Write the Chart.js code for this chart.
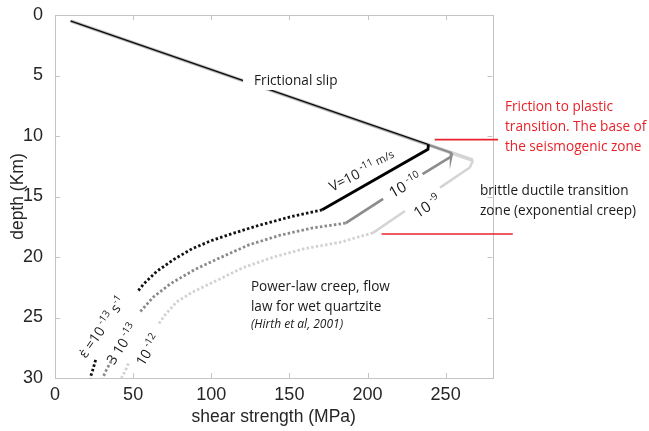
<!DOCTYPE html>
<html>
<head>
<meta charset="utf-8">
<title>Shear strength with depth</title>
<script src="https://cdn.jsdelivr.net/npm/chart.js@4.4.0/dist/chart.umd.min.js"></script>
<style>
  html, body { margin: 0; padding: 0; background: #fff; }
</style>
</head>
<body>
<canvas id="strengthChart" width="649" height="431"></canvas>
<script>
// Axis ticks
const stressTicks = [0, 50, 100, 150, 200, 250];
const depthTicks = [0, 5, 10, 15, 20, 25, 30];

// Frictional slip + brittle-ductile segment, one path per slip velocity (null = gap for the label)
const v11Stress = [10, 239, 238.7, 171];
const v11Depth = [0.5, 10.7, 11.1, 16.1];
const v10Stress = [10, 254, 253.5, 235.2, null, 210, 186];
const v10Depth = [0.5, 11.4, 11.7, 13.15, null, 15.2, 17.2];
const v9Stress = [10, 267.5, 265.5, 246.4, null, 224, 203.5];
const v9Depth = [0.5, 12.0, 12.6, 14.27, null, 16.2, 18.0];

// Power-law creep, one curve per strain rate
const e13Stress = [171, 150, 130, 115, 101, 88, 76, 65, 57, 52.5, null, 26, 24.5, 22.5];
const e13Depth = [16.1, 16.7, 17.4, 18.0, 18.6, 19.3, 20.2, 21.2, 22.2, 22.9, null, 28.5, 29.2, 30];
const e13x3Stress = [186, 165, 144, 124, 105, 90, 74, 63, 54, null, 36, 33, 30.5];
const e13x3Depth = [17.2, 17.6, 18.2, 19.0, 20.1, 21.0, 22.2, 23.3, 24.6, null, 28.6, 29.3, 30];
const e12Stress = [203.5, 182, 160, 140, 120, 101, 88, 78, 71, 66.5, null, 47, 45, 42.5];
const e12Depth = [18.0, 18.8, 19.3, 20.0, 20.9, 22.1, 22.9, 23.7, 24.7, 25.5, null, 28.8, 29.4, 30];

// Markers for the base of the seismogenic zone and the bottom of the transition zone
const seismoStress = [243, 283.5];
const seismoDepth = [10.3, 10.3];
const ductileStress = [209, 293];
const ductileDepth = [18.1, 18.1];

function pts(xs, ys) {
  return xs.map((x, i) => (x === null ? { x: null, y: null } : { x: x, y: ys[i] }));
}

// frictionWidth: different stroke on the first (frictional) segment so the paths stack
function path(xs, ys, color, width, dash, frictionWidth) {
  const ds = {
    data: pts(xs, ys),
    showLine: true,
    borderColor: color,
    borderWidth: width,
    borderDash: dash || [],
    borderCapStyle: 'butt',
    borderJoinStyle: 'miter',
    pointRadius: 0,
    spanGaps: false,
    clip: false
  };
  if (frictionWidth) {
    ds.segment = { borderWidth: c => (c.p0DataIndex === 0 ? frictionWidth : width) };
  }
  return ds;
}

const AXIS_FONT = 'Liberation Sans, Arial, sans-serif';
const NOTE_FONT = '"Open Sans", "Noto Sans", sans-serif';

function fontOf(run) {
  return (run[3] || '') + ' ' + run[1] + 'px ' + NOTE_FONT;
}

// draw a row of text runs [text, size, rise, style], rotated about (x, y)
function drawRuns(ctx, runs, x, y, opt) {
  ctx.save();
  ctx.translate(x, y);
  ctx.rotate((opt.angle || 0) * Math.PI / 180);
  let total = 0;
  const widths = runs.map(r => {
    ctx.font = fontOf(r);
    const w = ctx.measureText(r[0]).width;
    total += w;
    return w;
  });
  let cx = opt.align === 'center' ? -total / 2 : 0;
  const base = runs[0][1] * 0.36;
  if (opt.bg) {
    ctx.fillStyle = '#fff';
    ctx.fillRect(cx - opt.bg[0], -opt.bg[1], total + opt.bg[0] + opt.bg[2], opt.bg[1] + opt.bg[3]);
  }
  ctx.fillStyle = opt.color || '#1a1a1a';
  ctx.textAlign = 'left';
  ctx.textBaseline = 'alphabetic';
  runs.forEach((r, i) => {
    ctx.font = fontOf(r);
    ctx.fillText(r[0], cx, base - (r[2] || 0));
    cx += widths[i];
  });
  ctx.restore();
}

// text placed in data units (stress, depth)
const notes = [
  { runs: [['Frictional slip', 13.6]], x: 127.4, y: 5.37, bg: [11, 10, 4, 10] },
  { runs: [['Friction to plastic', 13.6]], x: 288, y: 7.52, color: '#e8232a' },
  { runs: [['transition. The base of', 13.6]], x: 288, y: 9.17, color: '#e8232a' },
  { runs: [['the seismogenic zone', 13.6]], x: 288, y: 10.83, color: '#e8232a' },
  { runs: [['brittle ductile transition', 13.6]], x: 272, y: 14.46 },
  { runs: [['zone (exponential creep)', 13.6]], x: 272, y: 16.12 },
  { runs: [['Power-law creep, flow', 13.6]], x: 125.4, y: 22.4 },
  { runs: [['law for wet quartzite', 13.6]], x: 125.4, y: 24.05 },
  { runs: [['(Hirth et al, 2001)', 12, 0, 'italic']], x: 125.4, y: 25.55 },
  { runs: [['V=10', 14], [' -11', 10, 6], [' m/s', 11, 3]], x: 196.5, y: 12.9, angle: -27, align: 'center' },
  { runs: [['10', 15], [' -10', 10, 6]], x: 224, y: 14.05, angle: -30, align: 'center' },
  { runs: [['10', 15], [' -9', 10, 6]], x: 238, y: 15.79, angle: -33, align: 'center' },
  { runs: [['\u03B5\u0307 =10', 14], [' -13', 10, 6], [' s', 14], ['-1', 10, 6]], x: 30.1, y: 25.79, angle: -55, align: 'center' },
  { runs: [['3 10', 14], [' -13', 10, 6]], x: 42.9, y: 27.19, angle: -57, align: 'center' },
  { runs: [['10', 14], [' -12', 10, 6]], x: 59.5, y: 27.69, angle: -58, align: 'center' }
];

const frame = {
  id: 'frame',
  beforeDatasetsDraw(chart) {
    const { ctx, chartArea: a, scales: { x, y } } = chart;
    ctx.save();
    ctx.strokeStyle = '#c4c4c4';
    ctx.lineWidth = 1;
    ctx.strokeRect(Math.round(a.left) + 0.5, Math.round(a.top) + 0.5,
      Math.round(a.right - a.left), Math.round(a.bottom - a.top));
    ctx.beginPath();
    stressTicks.forEach(v => {
      const px = Math.round(x.getPixelForValue(v)) + 0.5;
      ctx.moveTo(px, a.bottom); ctx.lineTo(px, a.bottom - 5);
      ctx.moveTo(px, a.top); ctx.lineTo(px, a.top + 5);
    });
    depthTicks.forEach(v => {
      const py = Math.round(y.getPixelForValue(v)) + 0.5;
      ctx.moveTo(a.left, py); ctx.lineTo(a.left + 5, py);
      ctx.moveTo(a.right, py); ctx.lineTo(a.right - 5, py);
    });
    ctx.stroke();
    ctx.restore();
  },
  afterDatasetsDraw(chart) {
    const { ctx, scales: { x, y } } = chart;
    notes.forEach(n => {
      drawRuns(ctx, n.runs, x.getPixelForValue(n.x), y.getPixelForValue(n.y), n);
    });
  }
};

const ctx = document.getElementById('strengthChart').getContext('2d');
new Chart(ctx, {
  type: 'scatter',
  data: {
    datasets: [
      path(v11Stress, v11Depth, '#000000', 2.8, null, 1.1),
      path(v10Stress, v10Depth, '#8c8c8c', 2.8, null, 2.2),
      path(v9Stress, v9Depth, '#d4d4d4', 2.6, null, 3.6),
      path(e13Stress, e13Depth, '#111111', 2.8, [2.5, 2.2]),
      path(e13x3Stress, e13x3Depth, '#8a8a8a', 2.8, [2.5, 2.2]),
      path(e12Stress, e12Depth, '#d2d2d2', 2.8, [2.5, 2.2]),
      path(seismoStress, seismoDepth, '#e8232a', 1.6),
      path(ductileStress, ductileDepth, '#e8232a', 1.6)
    ]
  },
  options: {
    responsive: false,
    animation: false,
    layout: { padding: { top: 15, right: 156.5, left: 0, bottom: 0 } },
    plugins: { legend: { display: false }, tooltip: { enabled: false } },
    scales: {
      x: {
        type: 'linear',
        min: 0,
        max: 280,
        afterFit: s => { s.height = 53; s.paddingLeft = 0; s.paddingRight = 0; },
        afterBuildTicks: s => { s.ticks = stressTicks.map(v => ({ value: v })); },
        grid: { display: false, drawTicks: false },
        border: { display: false },
        ticks: { padding: 6, color: '#262626', font: { family: AXIS_FONT, size: 18 } },
        title: {
          display: true,
          text: 'shear strength (MPa)',
          color: '#262626',
          font: { family: AXIS_FONT, size: 17.5 },
          padding: { top: 0, bottom: 3 }
        }
      },
      y: {
        type: 'linear',
        reverse: true,
        min: 0,
        max: 30,
        afterFit: s => { s.width = 55; s.paddingTop = 0; s.paddingBottom = 0; },
        afterBuildTicks: s => { s.ticks = depthTicks.map(v => ({ value: v })); },
        grid: { display: false, drawTicks: false },
        border: { display: false },
        ticks: { padding: 12, color: '#262626', font: { family: AXIS_FONT, size: 18 } },
        title: {
          display: true,
          text: 'depth (Km)',
          color: '#262626',
          font: { family: AXIS_FONT, size: 17.5 },
          padding: { top: 8, bottom: 0 }
        }
      }
    }
  },
  plugins: [frame]
});
</script>
</body>
</html>
